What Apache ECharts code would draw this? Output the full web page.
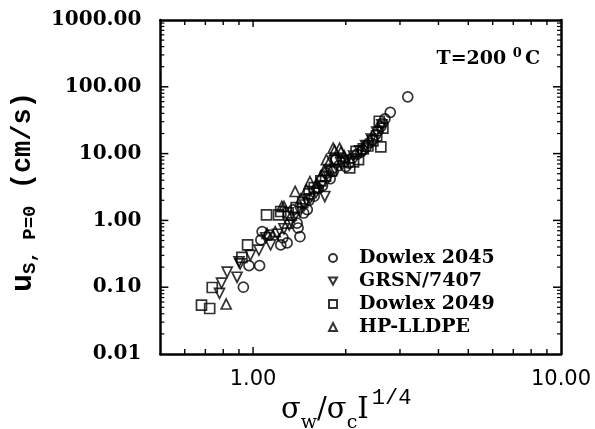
<!DOCTYPE html>
<html>
<head>
    <meta charset="utf-8">
    <title>u_s vs sigma</title>
    <script src="https://cdn.jsdelivr.net/npm/echarts@6/dist/echarts.min.js"></script>
</head>
<body style="margin:0;background:#fff">
<div id="main" style="width: 595px;height:429px;"></div>
<script type="text/javascript">
    var seriesNames = ['Dowlex 2045', 'GRSN/7407', 'Dowlex 2049', 'HP-LLDPE'];

    // [sigma_w/sigma_c I^1/4, u_s]
    var dowlex2045 = [[0.93, 0.10], [0.97, 0.21], [1.05, 0.21], [1.06, 0.51], [1.07, 0.68], [1.13, 0.60],
        [1.23, 0.43], [1.29, 0.46], [1.25, 0.55], [1.35, 1.44], [1.39, 0.91], [1.40, 0.77], [1.42, 0.57],
        [1.46, 1.29], [1.50, 1.45], [1.52, 2.0], [1.58, 2.3], [1.63, 3.0], [1.68, 3.3], [1.73, 5.1],
        [1.78, 4.2], [1.82, 5.4], [1.86, 8.1], [1.90, 6.6], [2.00, 6.4], [2.05, 7.2], [2.10, 8.6],
        [2.18, 9.8], [2.24, 10.5], [2.27, 11.4], [2.33, 12.5], [2.38, 14.5], [2.44, 16.1], [2.50, 19.2],
        [2.55, 22.0], [2.60, 25.5], [2.63, 28.7], [2.68, 33.0], [2.79, 41.5], [3.18, 70.8]];
    var grsn7407 = [[0.778, 0.081], [0.79, 0.115], [0.824, 0.168], [0.887, 0.141], [0.90, 0.24], [0.908, 0.223],
        [0.98, 0.30], [1.045, 0.36], [1.10, 0.55], [1.14, 0.43], [1.20, 0.62], [1.26, 0.75], [1.31, 0.85],
        [1.36, 1.10], [1.42, 1.35], [1.47, 1.70], [1.53, 2.10], [1.60, 2.60], [1.66, 3.20], [1.71, 2.28],
        [1.76, 4.40], [1.84, 5.80], [1.93, 7.20], [2.02, 8.00], [2.12, 9.20], [2.22, 11.0], [2.32, 13.2],
        [2.42, 16.5], [2.52, 21.0], [2.62, 27.0]];
    var dowlex2049 = [[0.68, 0.054], [0.723, 0.048], [0.737, 0.099], [0.92, 0.28], [0.96, 0.43], [1.106, 1.21],
        [1.21, 1.21], [1.23, 1.36], [1.30, 1.30], [1.38, 1.55], [1.45, 1.85], [1.52, 2.50], [1.58, 3.10],
        [1.66, 3.90], [1.72, 4.60], [1.80, 5.50], [1.86, 8.1], [1.96, 7.6], [2.06, 6.1], [2.12, 7.5],
        [2.16, 10.8], [2.20, 8.1], [2.28, 11.8], [2.36, 13.0], [2.45, 15.5], [2.52, 18.5], [2.57, 30.5],
        [2.60, 12.6], [2.64, 24.0]];
    var hpLldpe = [[0.818, 0.056], [1.11, 0.64], [1.18, 0.68], [1.24, 1.62], [1.26, 1.62], [1.29, 0.91],
        [1.33, 1.20], [1.37, 2.71], [1.43, 2.10], [1.49, 2.88], [1.53, 3.80], [1.61, 3.62], [1.66, 4.60],
        [1.70, 5.60], [1.73, 8.1], [1.77, 7.6], [1.82, 12.1], [1.84, 11.2], [1.91, 12.1], [1.93, 10.6],
        [1.98, 9.2]];

    var xMin = 0.5, xMax = 10, yMin = 0.01, yMax = 1000;
    var xLabelValues = [1, 10];
    var xTickValues = [0.6, 0.7, 0.8, 0.9, 1, 2, 3, 4, 5, 6, 7, 8, 9];
    var yMajorTicks = [0.1, 1, 10, 100];
    var yMinorTicks = [0.02, 0.03, 0.04, 0.05, 0.06, 0.07, 0.08, 0.09,
        0.2, 0.3, 0.4, 0.5, 0.6, 0.7, 0.8, 0.9,
        2, 3, 4, 5, 6, 7, 8, 9,
        20, 30, 40, 50, 60, 70, 80, 90,
        200, 300, 400, 500, 600, 700, 800, 900];

    var downTriangle = 'path://M0,0 L10,0 L5,9 Z';

    var myChart = echarts.init(document.getElementById('main'));

    function scatter(name, data, symbol) {
        return {
            name: name,
            type: 'scatter',
            data: data,
            symbol: symbol,
            symbolSize: 10,
            itemStyle: {color: 'rgba(255,255,255,0)', borderColor: '#000', borderWidth: 1.7}
        };
    }

    var frame = {show: true, lineStyle: {color: '#000', width: 2.5}};

    var option = {
        animation: false,
        grid: {left: 157, right: 34, top: 20, bottom: 75},
        title: [{
            text: '{a|T=200 }{s|0}{a|C}',
            right: 50,
            top: 42,
            textStyle: {
                rich: {
                    a: {fontFamily: 'DejaVu Serif', fontWeight: 'bold', fontSize: 19, color: '#000', lineHeight: 24},
                    s: {fontFamily: 'DejaVu Serif', fontWeight: 'bold', fontSize: 13, color: '#000',
                        lineHeight: 12, verticalAlign: 'top', padding: [0, 3, 0, 0]}
                }
            }
        }, {
            text: '{a|σ}{b|w}{a|/σ}{b|c}{a|I}{c|1/4}',
            left: 276,
            top: 382,
            textStyle: {
                rich: {
                    a: {fontFamily: 'DejaVu Serif', fontWeight: 'normal', fontSize: 29, color: '#000', lineHeight: 46},
                    b: {fontFamily: 'DejaVu Serif', fontWeight: 'normal', fontSize: 19, color: '#000', lineHeight: 14, verticalAlign: 'bottom'},
                    c: {fontFamily: 'Liberation Mono', fontWeight: 'normal', fontSize: 22, color: '#000', lineHeight: 18,
                        verticalAlign: 'top', padding: [0, 0, 0, 3]}
                }
            }
        }],
        legend: {
            orient: 'vertical',
            left: 328,
            top: 248,
            padding: 0,
            itemWidth: 8,
            itemHeight: 8,
            itemGap: 3,
            data: seriesNames,
            textStyle: {
                fontFamily: 'DejaVu Serif', fontWeight: 'bold', fontSize: 19, color: '#000',
                lineHeight: 20, padding: [0, 0, 0, 17]
            }
        },
        xAxis: [{
            type: 'log', min: xMin, max: xMax, position: 'bottom',
            axisLine: frame,
            axisTick: {show: false},
            axisLabel: {
                margin: 15, color: '#000',
                fontFamily: 'DejaVu Sans', fontSize: 21,
                formatter: function (v) { return xLabelValues.indexOf(v) >= 0 ? v.toFixed(2) : ''; }
            },
            splitLine: {show: false}
        }, {
            type: 'log', min: xMin, max: xMax, position: 'top',
            axisLine: frame,
            axisTick: {show: false},
            axisLabel: {show: false},
            splitLine: {show: false}
        }],
        yAxis: [{
            type: 'log', min: yMin, max: yMax, position: 'left',
            axisLine: frame,
            axisTick: {show: false},
            axisLabel: {
                margin: 19, color: '#000',
                fontFamily: 'DejaVu Serif', fontWeight: 'bold', fontSize: 20,
                formatter: function (v) { return v.toFixed(2); }
            },
            splitLine: {show: false},
            name: '{u|u}{s|S, P=0}{m| (cm/s)}',
            nameLocation: 'middle',
            nameRotate: 90,
            nameGap: 114,
            nameTextStyle: {
                rich: {
                    u: {fontFamily: 'Liberation Mono', fontWeight: 'bold', fontSize: 30, color: '#000', lineHeight: 34},
                    s: {fontFamily: 'Liberation Mono', fontWeight: 'bold', fontSize: 19, color: '#000', lineHeight: 14, verticalAlign: 'bottom'},
                    m: {fontFamily: 'Liberation Mono', fontWeight: 'bold', fontSize: 27, color: '#000', lineHeight: 34,
                        padding: [0, 10, 0, 0]}
                }
            }
        }, {
            type: 'log', min: yMin, max: yMax, position: 'right',
            axisLine: frame,
            axisTick: {show: false},
            axisLabel: {show: false},
            splitLine: {show: false}
        }],
        series: [
            scatter(seriesNames[0], dowlex2045, 'circle'),
            scatter(seriesNames[1], grsn7407, downTriangle),
            scatter(seriesNames[2], dowlex2049, 'rect'),
            scatter(seriesNames[3], hpLldpe, 'triangle')
        ]
    };

    myChart.setOption(option);

    // inward tick marks on all four sides, placed through the axes' own scales
    var gLeft = myChart.convertToPixel({xAxisIndex: 0}, xMin);
    var gRight = myChart.convertToPixel({xAxisIndex: 0}, xMax);
    var gTop = myChart.convertToPixel({yAxisIndex: 0}, yMax);
    var gBottom = myChart.convertToPixel({yAxisIndex: 0}, yMin);
    var tickLines = [];

    function tickLine(x1, y1, x2, y2, w) {
        tickLines.push({type: 'line', silent: true, z: 10,
            shape: {x1: x1, y1: y1, x2: x2, y2: y2}, style: {stroke: '#000', lineWidth: w}});
    }

    xTickValues.forEach(function (v) {
        var x = myChart.convertToPixel({xAxisIndex: 0}, v);
        var len = v === 1 ? 7 : 5;
        tickLine(x, gBottom, x, gBottom - len, 1.4);
        tickLine(x, gTop, x, gTop + len, 1.4);
    });
    yMajorTicks.forEach(function (v) {
        var y = myChart.convertToPixel({yAxisIndex: 0}, v);
        tickLine(gLeft, y, gLeft + 8, y, 1.5);
        tickLine(gRight, y, gRight - 8, y, 1.5);
    });
    yMinorTicks.forEach(function (v) {
        var y = myChart.convertToPixel({yAxisIndex: 0}, v);
        tickLine(gLeft, y, gLeft + 4, y, 1.2);
        tickLine(gRight, y, gRight - 4, y, 1.2);
    });

    myChart.setOption({graphic: tickLines});
</script>
</body>
</html>
